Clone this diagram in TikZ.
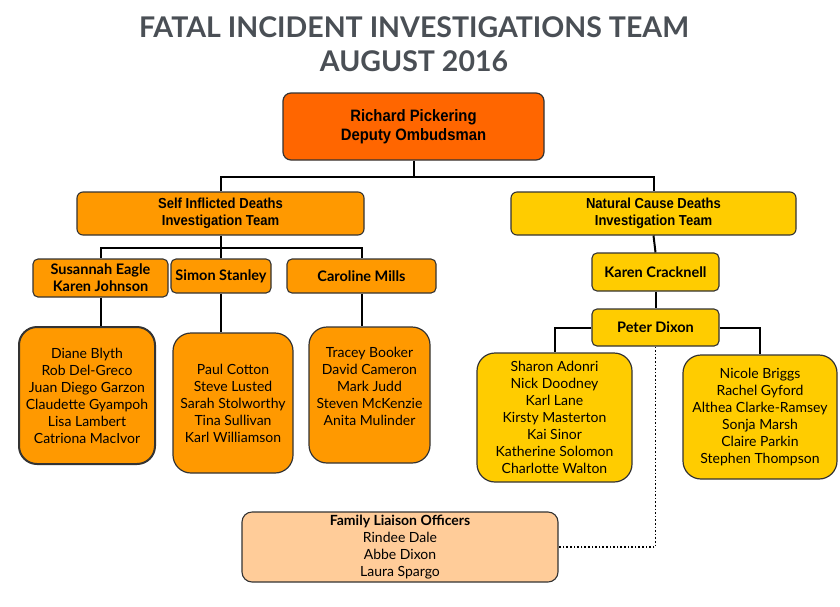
\documentclass[tikz,border=0pt]{standalone}
\usepackage{fontspec}
\setmainfont{Lato}
\newfontfamily\narrowfont{Liberation Sans}[FakeStretch=0.9]
\usetikzlibrary{positioning, calc}
\definecolor{titlegray}{HTML}{4A4F55}
\definecolor{deputyfill}{HTML}{FF6600}
\definecolor{selffill}{HTML}{FF9900}
\definecolor{natfill}{HTML}{FFCC00}
\definecolor{flofill}{HTML}{FFCC99}
\definecolor{boxstr}{HTML}{333333}
\tikzset{
  headbox/.style  ={rectangle, rounded corners=8pt, draw=boxstr, line width=1.2pt, fill=deputyfill,
                    align=center, font=\narrowfont\bfseries\fontsize{16.5}{19}\selectfont},
  teambox/.style  ={rectangle, rounded corners=6pt, draw=boxstr, line width=1.1pt,
                    align=center, font=\narrowfont\bfseries\fontsize{14.5}{17}\selectfont},
  leadbox/.style  ={rectangle, rounded corners=5pt, draw=boxstr, line width=1.1pt,
                    align=center, inner sep=0pt, font=\bfseries\fontsize{14.5}{17}\selectfont},
  memberbox/.style={rectangle, rounded corners=18pt, draw=boxstr, line width=1.2pt,
                    align=center, inner sep=0pt, font=\fontsize{14}{17}\selectfont},
  flobox/.style   ={rectangle, rounded corners=10pt, draw=boxstr, line width=1.1pt, fill=flofill,
                    align=center, inner sep=0pt, font=\fontsize{14}{17}\selectfont},
  link/.style     ={draw=black, line width=2pt},
  dotlink/.style  ={draw=black, line width=1.6pt, dotted},
}
\begin{document}
\begin{tikzpicture}[x=1pt, y=-1pt]
  \useasboundingbox (0,0) rectangle (840,606);

  % title
  \node[font=\bfseries\fontsize{28.5}{34}\selectfont, text=titlegray, align=center] (title) at (414,44)
    {FATAL INCIDENT INVESTIGATIONS TEAM\\AUGUST 2016};

  % top of the tree
  \node[headbox, minimum width=261pt, minimum height=67pt] (dep) at (413.5,126.5)
    {Richard Pickering\\Deputy Ombudsman};
  \node[teambox, fill=selffill, minimum width=287pt, minimum height=43pt] (sid) at (220.5,213.5)
    {Self Inflicted Deaths\\Investigation Team};
  \node[teambox, fill=natfill, minimum width=285pt, minimum height=43pt] (ncd) at (653.5,213.5)
    {Natural Cause Deaths\\Investigation Team};

  % self inflicted deaths
  \node[leadbox, fill=selffill, minimum width=135pt, minimum height=38pt] (sus) at (100.5,278)
    {Susannah Eagle\\Karen Johnson};
  \node[leadbox, fill=selffill, minimum width=100pt, minimum height=34pt] (sim) at (221,276)
    {Simon Stanley};
  \node[leadbox, fill=selffill, minimum width=149pt, minimum height=34pt] (car) at (361.5,276)
    {Caroline Mills};

  \node[memberbox, fill=selffill, line width=2pt, minimum width=136pt, minimum height=137pt] (grpsus) at (87,395.5)
    {Diane Blyth\\Rob Del-Greco\\Juan Diego Garzon\\Claudette Gyampoh\\Lisa Lambert\\Catriona MacIvor};
  \node[memberbox, fill=selffill, minimum width=120pt, minimum height=140pt] (grpsim) at (233,403)
    {Paul Cotton\\Steve Lusted\\Sarah Stolworthy\\Tina Sullivan\\Karl Williamson};
  \node[memberbox, fill=selffill, minimum width=121pt, minimum height=136pt] (grpcar) at (369.5,395)
    {Tracey Booker\\David Cameron\\Mark Judd\\Steven McKenzie\\Anita Mulinder\\\mbox{}};

  % natural cause deaths
  \node[leadbox, fill=natfill, minimum width=127pt, minimum height=38pt] (kc) at (655.5,272)
    {Karen Cracknell};
  \node[leadbox, fill=natfill, minimum width=127pt, minimum height=37pt] (pd) at (655.5,327.5)
    {Peter Dixon};

  \node[memberbox, fill=natfill, minimum width=155pt, minimum height=129pt] (grpa) at (554.5,417.5)
    {Sharon Adonri\\Nick Doodney\\Karl Lane\\Kirsty Masterton\\Kai Sinor\\Katherine Solomon\\Charlotte Walton};
  \node[memberbox, fill=natfill, minimum width=154pt, minimum height=124pt] (grpb) at (760,417)
    {Nicole Briggs\\Rachel Gyford\\Althea Clarke-Ramsey\\Sonja Marsh\\Claire Parkin\\Stephen Thompson};

  % family liaison
  \node[flobox, minimum width=316pt, minimum height=70pt] (flo) at (400,547)
    {\textbf{Family Liaison Officers}\\Rindee Dale\\Abbe Dixon\\Laura Spargo};

  % connectors
  \draw[link] (dep.south) -- ++(0,16) coordinate (jdep);
  \draw[link] (jdep) -| (sid.north);
  \draw[link] (jdep) -| (ncd.north);

  \draw[link] (sid.south) -- ++(0,12) coordinate (jsid);
  \draw[link] (jsid) -| (sus.north);
  \draw[link] (jsid) -| (sim.north);
  \draw[link] (jsid) -| (car.north);

  \draw[link] (sus.south) -- (sus.south |- grpsus.north);
  \draw[link] (sim.south) -- (sim.south |- grpsim.north);
  \draw[link] (car.south) -- (car.south |- grpcar.north);

  \draw[link] (ncd.south) -- (kc.north);
  \draw[link] (kc.south) -- (pd.north);
  \draw[link] (pd.west) -| (grpa.north);
  \draw[link] (pd.east) -| (grpb.north);

  \draw[dotlink] (pd.south) |- (flo.east);
\end{tikzpicture}
\end{document}
